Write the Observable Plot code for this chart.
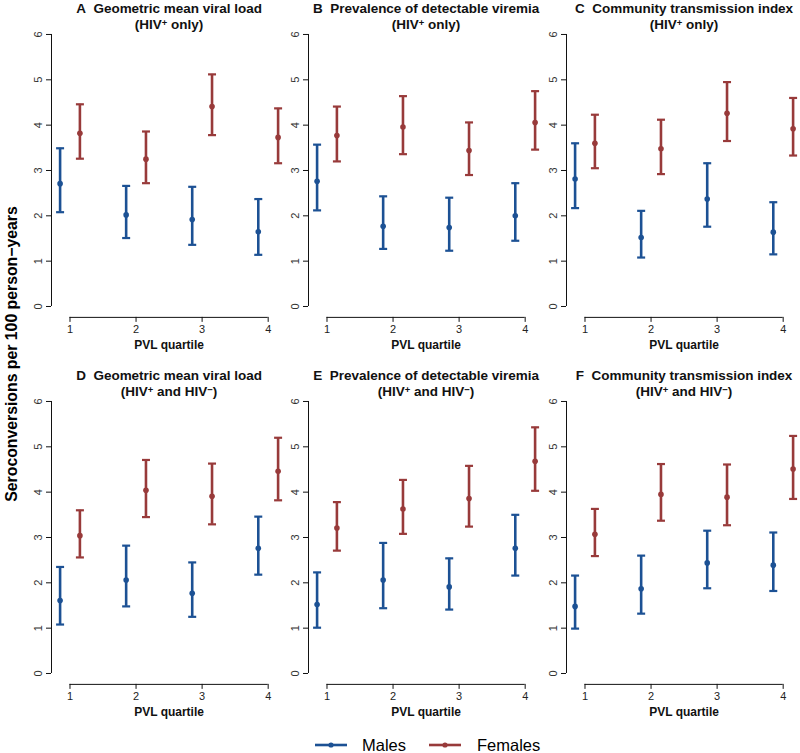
<!DOCTYPE html>
<html><head><meta charset="utf-8">
<script src="https://cdn.jsdelivr.net/npm/d3@7"></script>
<script src="https://cdn.jsdelivr.net/npm/@observablehq/plot@0.6"></script>
<style>
html,body{margin:0;padding:0;background:#fff;}
#root{position:relative;width:800px;height:753px;overflow:hidden;font-family:"Liberation Sans",Arial,Helvetica,sans-serif;color:#000;}
#root svg{position:absolute;overflow:visible;}
.ylab{position:absolute;white-space:nowrap;font-weight:bold;font-size:15.8px;transform:translate(-50%,-50%) rotate(-90deg);}
.leg{position:absolute;font-size:16.5px;line-height:1;}
</style></head><body><div id="root"></div>
<script>
// ---------------- data ----------------
const quartiles = [1, 2, 3, 4];
const seriesNames = ["Males", "Females"];
const panelLetters = ["A", "B", "C", "D", "E", "F"];
const titleLine1 = [
  "Geometric mean viral load", "Prevalence of detectable viremia", "Community transmission index",
  "Geometric mean viral load", "Prevalence of detectable viremia", "Community transmission index"
];
const titleLine2 = [
  "(HIV+ only)", "(HIV+ only)", "(HIV+ only)",
  "(HIV+ and HIV−)", "(HIV+ and HIV−)", "(HIV+ and HIV−)"
];
const maleEst = [
  [2.71, 2.02, 1.92, 1.65],
  [2.76, 1.77, 1.74, 2.00],
  [2.81, 1.52, 2.37, 1.64],
  [1.61, 2.06, 1.77, 2.76],
  [1.52, 2.06, 1.91, 2.76],
  [1.48, 1.87, 2.44, 2.39]
];
const maleLo = [
  [2.08, 1.51, 1.36, 1.14],
  [2.12, 1.27, 1.23, 1.45],
  [2.17, 1.08, 1.76, 1.15],
  [1.08, 1.48, 1.25, 2.18],
  [1.01, 1.44, 1.41, 2.16],
  [0.99, 1.32, 1.88, 1.82]
];
const maleHi = [
  [3.49, 2.66, 2.64, 2.37],
  [3.57, 2.43, 2.40, 2.72],
  [3.60, 2.11, 3.16, 2.30],
  [2.35, 2.82, 2.45, 3.46],
  [2.23, 2.88, 2.54, 3.50],
  [2.16, 2.60, 3.15, 3.11]
];
const femaleEst = [
  [3.82, 3.25, 4.41, 3.73],
  [3.77, 3.96, 3.44, 4.06],
  [3.60, 3.48, 4.26, 3.92],
  [3.04, 4.04, 3.91, 4.46],
  [3.21, 3.63, 3.86, 4.68],
  [3.07, 3.95, 3.89, 4.51]
];
const femaleLo = [
  [3.26, 2.72, 3.78, 3.16],
  [3.20, 3.36, 2.90, 3.46],
  [3.05, 2.92, 3.65, 3.33],
  [2.56, 3.45, 3.29, 3.82],
  [2.71, 3.08, 3.24, 4.03],
  [2.59, 3.37, 3.27, 3.85]
];
const femaleHi = [
  [4.46, 3.86, 5.12, 4.37],
  [4.41, 4.64, 4.06, 4.75],
  [4.23, 4.12, 4.95, 4.60],
  [3.60, 4.71, 4.63, 5.20],
  [3.78, 4.27, 4.58, 5.43],
  [3.63, 4.62, 4.61, 5.24]
];
const yTicks = [0, 1, 2, 3, 4, 5, 6];
const xTicks = [1, 2, 3, 4];
const xLabel = "PVL quartile";
const yLabel = "Seroconversions per 100 person−years";

// ---------------- style / layout ----------------
const colors = ["#1c5194", "#983a3a"];
const FONT = '"Liberation Sans", Arial, Helvetica, sans-serif';
const xDom = [0.72, 4.28];
const yDom = [-0.24, 6.24];
const dodge = 0.15;
const colLeft = [50.6, 308.2, 565.8];
const rowTop = [23.1, 390.1];
const frameW = 235.2, frameH = 293.8;
const ML = 45, MR = 6, MT = 23.1, MB = 45;

const capSymbol = {
  draw(ctx, size) {
    const r = Math.sqrt(size / Math.PI);
    ctx.moveTo(-r, 0); ctx.lineTo(r, 0);
  }
};

function supify(svg, fs) {
  const up = 3;
  d3.select(svg).selectAll("text").each(function () {
    const t = this.textContent;
    if (!/HIV[+−]/.test(t)) return;
    const parts = t.split(/(HIV[+−])/).filter(s => s.length);
    const sel = d3.select(this);
    sel.text(null);
    let raised = false;
    parts.forEach(p => {
      const m = p.match(/^HIV([+−])$/);
      if (m) {
        const a = sel.append("tspan").text("HIV");
        if (raised) { a.attr("dy", up); raised = false; }
        sel.append("tspan").attr("dy", -up).attr("font-size", fs * 0.7).text(m[1]);
        raised = true;
      } else {
        const a = sel.append("tspan").text(p);
        if (raised) { a.attr("dy", up); raised = false; }
      }
    });
  });
}

const root = document.getElementById("root");

for (let p = 0; p < 6; p++) {
  const col = p % 3, row = Math.floor(p / 3);
  const rows = [];
  quartiles.forEach((q, i) => {
    rows.push({q, sex: seriesNames[0], est: maleEst[p][i], lo: maleLo[p][i], hi: maleHi[p][i]});
    rows.push({q, sex: seriesNames[1], est: femaleEst[p][i], lo: femaleLo[p][i], hi: femaleHi[p][i]});
  });
  const xpos = d => d.q + (d.sex === seriesNames[0] ? -dodge : dodge);
  const svg = Plot.plot({
    width: ML + frameW + MR,
    height: MT + frameH + MB,
    marginLeft: ML, marginRight: MR, marginTop: MT, marginBottom: MB,
    x: {domain: xDom, axis: null},
    y: {domain: yDom, axis: null},
    color: {domain: seriesNames, range: colors},
    style: {background: "transparent", overflow: "visible", fontFamily: FONT, color: "#000"},
    marks: [
      Plot.ruleX([xDom[0]], {y1: yTicks[0], y2: yTicks[yTicks.length - 1], stroke: "#111", strokeWidth: 1}),
      Plot.ruleY([yDom[0]], {x1: xTicks[0], x2: xTicks[xTicks.length - 1], stroke: "#111", strokeWidth: 1}),
      Plot.axisY(yTicks, {anchor: "left", tickSize: 5, tickPadding: 5, tickRotate: -90, fontSize: 11, label: null, stroke: "#111", fill: "#333"}),
      Plot.axisX(xTicks, {anchor: "bottom", tickSize: 5, tickPadding: 3, fontSize: 11, label: null, stroke: "#111", fill: "#222"}),
      Plot.ruleX(rows, {x: xpos, y1: "lo", y2: "hi", stroke: "sex", strokeWidth: 2.6}),
      Plot.dot(rows, {x: xpos, y: "hi", symbol: capSymbol, r: 4, stroke: "sex", strokeWidth: 2.2, fill: "none"}),
      Plot.dot(rows, {x: xpos, y: "lo", symbol: capSymbol, r: 4, stroke: "sex", strokeWidth: 2.2, fill: "none"}),
      Plot.dot(rows, {x: xpos, y: "est", r: 2.8, fill: "sex", stroke: null}),
      Plot.text([panelLetters[p] + "\u00a0 " + titleLine1[p]], {frameAnchor: "top", dy: -11, lineAnchor: "bottom", fontWeight: "bold", fontSize: 13.5, fill: "#111"}),
      Plot.text([titleLine2[p]], {frameAnchor: "top", dy: 5.5, lineAnchor: "bottom", fontWeight: "bold", fontSize: 13.5, fill: "#111"}),
      Plot.text([xLabel], {frameAnchor: "bottom", dy: 32, lineAnchor: "bottom", fontWeight: "bold", fontSize: 12, fill: "#111"})
    ]
  });
  supify(svg, 13.5);
  svg.style.left = (colLeft[col] - ML) + "px";
  svg.style.top = (rowTop[row] - MT) + "px";
  root.appendChild(svg);
}

// y-axis title
const yl = document.createElement("div");
yl.className = "ylab";
yl.textContent = yLabel;
yl.style.left = "12px";
yl.style.top = "354px";
root.appendChild(yl);

// legend
const legX = [[315, 362], [429, 477]];
seriesNames.forEach((name, i) => {
  const s = d3.create("svg").attr("width", 32).attr("height", 10)
    .style("left", legX[i][0] + "px").style("top", "740px");
  s.append("line").attr("x1", 0).attr("x2", 32).attr("y1", 5).attr("y2", 5)
    .attr("stroke", colors[i]).attr("stroke-width", 2.6);
  s.append("circle").attr("cx", 16).attr("cy", 5).attr("r", 2.6).attr("fill", colors[i]);
  root.appendChild(s.node());
  const t = document.createElement("div");
  t.className = "leg";
  t.textContent = name;
  t.style.left = legX[i][1] + "px";
  t.style.top = "737px";
  root.appendChild(t);
});
</script>
</body></html>
